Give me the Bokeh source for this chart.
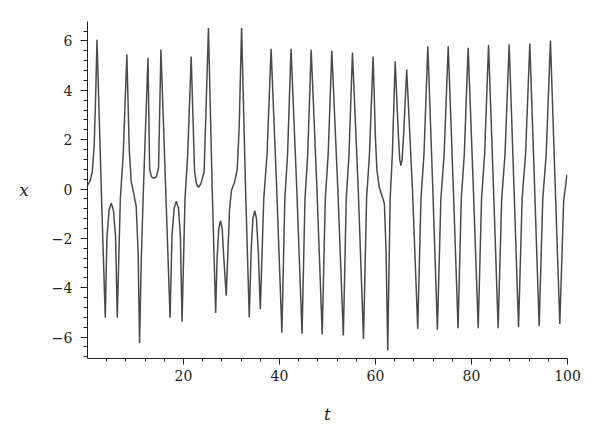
from bokeh.plotting import figure
from bokeh.models import Range1d, FixedTicker
from bokeh.embed import file_html
from bokeh.resources import INLINE

# (t, x) points
t_vals = [
    0.0, 0.5, 1.0, 1.4, 1.7, 1.98, 2.87, 3.7,
    4.05, 4.5, 4.95, 5.4, 5.85, 6.2, 6.84, 7.44, 8.2,
    8.7, 9.1, 9.6, 10.15, 10.55, 10.85, 11.2, 11.65, 12.6,
    12.95, 13.3, 13.84, 14.35, 14.8, 15.3, 16.29, 17.2,
    17.6, 18.05, 18.5, 18.95, 19.35, 19.7, 20.31, 20.88, 21.6,
    22.3, 22.7, 23.1, 23.6, 24.3, 25.2, 25.98, 26.7,
    27.0, 27.35, 27.7, 28.05, 28.4, 28.9,
    29.2, 29.6, 30.0, 30.6, 31.2, 31.6, 32.1, 32.93, 33.7,
    34.1, 34.45, 34.85, 35.2, 35.6, 36.0, 36.72, 37.4, 38.25,
    39.42, 40.5, 41.11, 41.68, 42.4, 43.6, 44.7, 45.31, 45.88, 46.6,
    47.8, 48.9, 49.54, 50.14, 50.9, 52.15, 53.3, 53.91, 54.48, 55.2,
    56.4, 57.5, 58.14, 58.74, 59.5,
    60.0, 60.3, 60.8, 61.4, 61.85, 62.2, 62.55, 63.05, 63.51, 64.1,
    64.75, 65.05, 65.3, 65.55, 65.87, 66.5, 67.7, 68.8,
    69.47, 70.1, 70.9, 71.94, 72.9, 73.62, 74.3, 75.15,
    76.22, 77.2, 77.87, 78.5, 79.3, 80.39, 81.4, 82.09, 82.73, 83.55,
    84.59, 85.55, 86.29, 86.98, 87.85, 88.86, 89.8, 90.55, 91.26, 92.15,
    93.16, 94.1, 94.85, 95.56, 96.45, 97.46, 98.4, 99.2, 99.9,
]
x_vals = [
    0.15, 0.3, 0.7, 1.8, 3.8, 6.05, 0.0, -5.22,
    -1.95, -0.85, -0.58, -0.85, -1.95, -5.22, -0.4, 1.4, 5.45,
    1.6, 0.3, -0.15, -0.7, -2.6, -6.25, -2.9, 0.0, 5.32,
    0.8, 0.5, 0.43, 0.5, 0.85, 5.65, 0.0, -5.22,
    -1.9, -0.78, -0.49, -0.78, -1.9, -5.38, -0.4, 1.4, 5.37,
    0.75, 0.2, 0.07, 0.2, 0.7, 6.53, 0.0, -5.02,
    -2.8, -1.6, -1.28, -1.6, -2.8, -4.32,
    -2.8, -0.8, -0.05, 0.25, 0.8, 2.5, 6.53, 0.0, -5.2,
    -2.5, -1.2, -0.88, -1.2, -2.6, -4.88, -0.4, 1.4, 5.68,
    0.0, -5.83, -0.4, 1.4, 5.68, 0.0, -5.87, -0.4, 1.4, 5.64,
    0.0, -5.9, -0.4, 1.4, 5.6, 0.0, -5.94, -0.4, 1.4, 5.53,
    0.0, -6.08, -0.4, 1.4, 5.37,
    2.0, 0.75, 0.05, -0.3, -0.6, -2.5, -6.55, -0.4, 1.4, 5.18,
    2.25, 1.2, 0.95, 1.2, 2.25, 4.84, 0.0, -5.67,
    -0.4, 1.4, 5.79, 0.0, -5.7, -0.4, 1.4, 5.79,
    0.0, -5.64, -0.4, 1.4, 5.72, 0.0, -5.64, -0.4, 1.4, 5.84,
    0.0, -5.64, -0.4, 1.4, 5.87, 0.0, -5.6, -0.4, 1.4, 5.9,
    0.0, -5.56, -0.4, 1.4, 6.02, 0.0, -5.47, -0.47, 0.58,
]

x_ticks = [20, 40, 60, 80, 100]
x_tick_labels = ["20", "40", "60", "80", "100"]
y_ticks = [-6, -4, -2, 0, 2, 4, 6]
y_tick_labels = ["\u22126", "\u22124", "\u22122", "0", "2", "4", "6"]

p = figure(
    output_backend="svg", toolbar_location=None,
    frame_width=480, frame_height=337,
    min_border_left=87, min_border_right=30, min_border_top=21, min_border_bottom=80,
    x_range=Range1d(0, 100), y_range=Range1d(-6.87, 6.79),
)
p.outline_line_color = None
p.grid.visible = False
p.background_fill_color = "white"
p.border_fill_color = "white"

p.line(t_vals, x_vals, line_color="#4a4a4a", line_width=1.5)

serif = "DejaVu Serif"

xa = p.xaxis[0]
xa.ticker = FixedTicker(ticks=x_ticks, minor_ticks=[v * 4 for v in range(1, 26)])
xa.major_label_overrides = {v: s for v, s in zip(x_ticks, x_tick_labels)}
xa.axis_label = "t"
xa.axis_label_text_font = serif
xa.axis_label_text_font_style = "italic"
xa.axis_label_text_font_size = "17px"
xa.axis_label_standoff = 20
xa.major_label_text_font = serif
xa.major_label_text_font_size = "14px"
xa.major_label_standoff = 5
xa.major_tick_out = 6
xa.major_tick_in = 0
xa.minor_tick_out = 3
xa.minor_tick_in = 0

ya = p.yaxis[0]
ya.ticker = FixedTicker(ticks=y_ticks, minor_ticks=[round(-6.8 + 0.4 * k, 2) for k in range(35)])
ya.major_label_overrides = {v: s for v, s in zip(y_ticks, y_tick_labels)}
ya.axis_label = "x"
ya.axis_label_orientation = "horizontal"
ya.axis_label_text_font = serif
ya.axis_label_text_font_style = "italic"
ya.axis_label_text_font_size = "17px"
ya.axis_label_standoff = 20
ya.major_label_text_font = serif
ya.major_label_text_font_size = "14px"
ya.major_label_standoff = 8
ya.major_tick_out = 7
ya.major_tick_in = 0
ya.minor_tick_out = 4
ya.minor_tick_in = 0

for ax in (xa, ya):
    ax.axis_line_color = "#222222"
    ax.major_tick_line_color = "#222222"
    ax.minor_tick_line_color = "#222222"
    ax.major_label_text_color = "#222222"
    ax.axis_label_text_color = "#222222"

open("out.html", "w").write(file_html(p, INLINE))
